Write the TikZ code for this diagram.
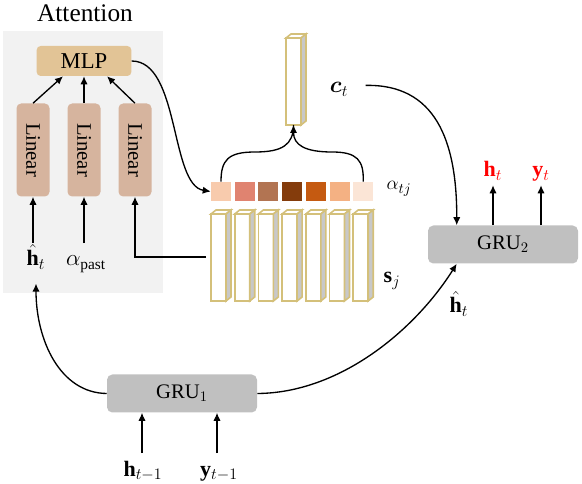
\documentclass[tikz,border=0pt]{standalone}
\usepackage{amsmath,bm}
\usepackage{fontspec}
\setmainfont{Liberation Serif}
\usetikzlibrary{arrows.meta,calc}

\definecolor{bgGray}{RGB}{242,242,242}
\definecolor{mlpTan}{RGB}{226,196,150}
\definecolor{linTan}{RGB}{214,180,158}
\definecolor{gruGray}{RGB}{192,192,192}
\definecolor{barEdge}{RGB}{212,192,122}
\definecolor{barSide}{RGB}{200,200,200}
\definecolor{attwA}{RGB}{248,203,173}
\definecolor{attwB}{RGB}{224,131,112}
\definecolor{attwC}{RGB}{178,116,82}
\definecolor{attwD}{RGB}{132,60,12}
\definecolor{attwE}{RGB}{197,90,17}
\definecolor{attwF}{RGB}{244,177,131}
\definecolor{attwG}{RGB}{251,229,214}

\tikzset{
  mlpbox/.style={fill=mlpTan, rounded corners=3pt, minimum width=71pt, minimum height=22.5pt, inner sep=0pt, font=\fontsize{17}{20}\selectfont},
  linbox/.style={fill=linTan, rounded corners=3.5pt, minimum width=24.75pt, minimum height=69.75pt, inner sep=0pt, font=\fontsize{15.5}{18}\selectfont},
  grubox/.style={fill=gruGray, rounded corners=4pt, minimum width=112.5pt, minimum height=28.5pt, inner sep=0pt, font=\fontsize{15.5}{18}\selectfont},
  asq/.style={minimum width=15pt, minimum height=14.25pt, inner sep=0pt},
  lbl/.style={font=\fontsize{16.5}{19}\selectfont, inner sep=3pt, text height=14pt, text depth=3pt, anchor=base},
  arr/.style={-{Latex[length=6pt,width=5.5pt]}, line width=1pt},
  baredge/.style={draw=barEdge, line width=1.2pt}
}
% 3d vector bar: name, x, y of the front bottom-left corner
\newcommand{\vecbar}[3]{%
  \draw[baredge, fill=white] (#2,#3) rectangle ++(15,-87);
  \draw[baredge, fill=white] (#2,#3-87) -- ++(5,-4) -- ++(15,0) -- ++(-5,4) -- cycle;
  \draw[baredge, fill=barSide] (#2+15,#3) -- ++(5,-4) -- ++(0,-87) -- ++(-5,4) -- cycle;
  \coordinate (#1-bot) at (#2+7.5,#3);}

\begin{document}
\begin{tikzpicture}[x=0.75pt,y=0.75pt,yscale=-1,xscale=1]
\useasboundingbox (0,0) rectangle (582,484);

% attention block
\fill[bgGray] (3,31) rectangle (163,293);
\node[anchor=base, font=\fontsize{19}{22}\selectfont] (att) at (85,22) {Attention};
\node[mlpbox] (mlp) at (84,61) {MLP};
\foreach \i/\x in {1/33,2/84,3/135}
  \node[linbox] (lin\i) at (\x,150) {\rotatebox{-90}{Linear}};

\draw[arr] (lin1.north) -- ($(mlp.south)+(-21,0)$);
\draw[arr] (lin2.north) -- (mlp.south);
\draw[arr] (lin3.north) -- ($(mlp.south)+(23,0)$);

% inputs of the attention
\node[lbl] (hin) at (36,266) {$\hat{\mathbf{h}}_t$};
\node[lbl] (apast) at (86,266) {$\alpha_{\mathrm{past}}$};
\draw[arr] (hin.north -| lin1.south) -- (lin1.south);
\draw[arr] (apast.north -| lin2.south) -- (lin2.south);
\coordinate (sin) at (206,257);
\draw[arr] (sin) -| (lin3.south);

% weights and encoder states
\foreach \c [count=\i] in {attwA,attwB,attwC,attwD,attwE,attwF,attwG}
  \node[asq, fill=\c] (a\i) at ({221+23.7*(\i-1)},191.5) {};
\foreach \i [evaluate=\i as \x using 211+23.7*(\i-1)] in {1,...,7}
  {\vecbar{s\i}{\x}{301}}
\vecbar{ctx}{286}{125}

\node[lbl, font=\fontsize{15}{18}\selectfont] (atj) at (399,190) {$\alpha_{tj}$};
\node[lbl] (sj) at (392,283) {$\mathbf{s}_j$};
\node[lbl] (ct) at (339,93) {$\bm{c}_t$};

\draw[arr] (mlp.east) .. controls (180,61) and (170,185) .. (a1.west);
\draw[line width=1pt] (a1.north) .. controls (221,160) and (228,152) .. (255,152) .. controls (282,152) and (293.5,145) .. (ctx-bot);
\draw[arr] (a7.north) .. controls (364,160) and (357,152) .. (332,152) .. controls (305,152) and (293.5,145) .. (ctx-bot);

% decoder
\node[grubox] (gru2) at (503,244.5) {GRU$_2$};
\node[grubox] (gru1) at (182,393.5) {GRU$_1$};

\node[lbl, red] (hout) at (493,177) {$\mathbf{h}_t$};
\node[lbl, red] (yout) at (541,177) {$\mathbf{y}_t$};
\draw[arr] (gru2.north -| hout) -- (hout.south);
\draw[arr] (gru2.north -| yout) -- (yout.south);

\node[lbl] (hprev) at (143,476) {$\mathbf{h}_{t-1}$};
\node[lbl] (yprev) at (219,476) {$\mathbf{y}_{t-1}$};
\draw[arr] ($(hprev.north)+(-1,0)$) -- ($(hprev.north |- gru1.south)+(-1,0)$);
\draw[arr] ($(yprev.north)+(-2,0)$) -- ($(yprev.north |- gru1.south)+(-2,0)$);

\node[lbl] (hgru) at (459,313) {$\hat{\mathbf{h}}_t$};

\draw[arr, shorten <=10pt] (ct.east) .. controls (435,84) and (457,140) .. ($(gru2.north west)+(29,0)$);
\draw[arr] (gru1.east) .. controls (340,393) and (415,330) .. ($(gru2.south west)+(29,0)$);
\draw[arr, shorten >=7pt] (gru1.west) .. controls (60,393) and (36,340) .. (hin.south);

\end{tikzpicture}
\end{document}
